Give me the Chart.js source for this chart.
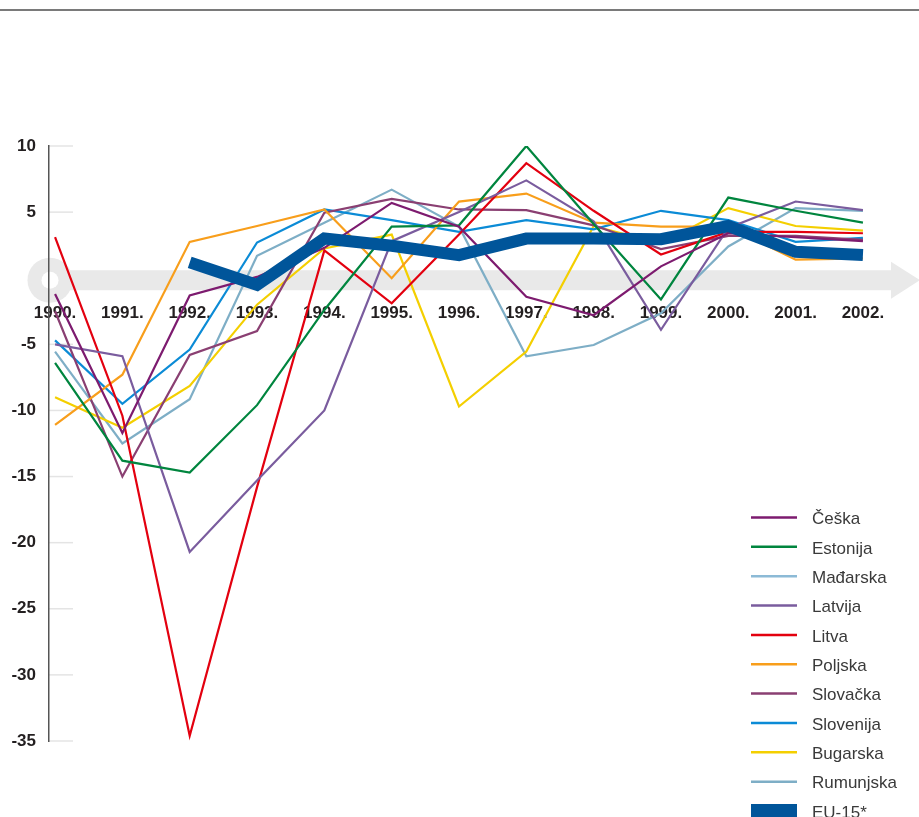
<!DOCTYPE html>
<html>
<head>
<meta charset="utf-8">
<script src="https://cdn.jsdelivr.net/npm/chart.js@4.4.0/dist/chart.umd.min.js"></script>
<style>
  html, body { margin: 0; padding: 0; background: #fff; }
  canvas { display: block; }
</style>
</head>
<body>
<canvas id="grafikon" width="919" height="817"></canvas>
<script>
// godine i oznake osi
const godine = [1990, 1991, 1992, 1993, 1994, 1995, 1996, 1997, 1998, 1999, 2000, 2001, 2002];
const yOznake = [10, 5, -5, -10, -15, -20, -25, -30, -35];

// stope rasta (%), očitano sa slike
const ceska     = [-1.2, -11.7, -1.3, 0.1, 2.3, 5.7, 3.9, -1.4, -2.8, 0.9, 3.4, 3.1, 2.8];
const estonija  = [-6.4, -13.8, -14.7, -9.6, -2.4, 3.9, 4.0, 10.0, 4.1, -1.6, 6.1, 5.1, 4.2];
const madarska  = [null, null, null, null, null, null, null, null, null, null, null, null, null];
const latvija   = [-5.0, -5.9, -20.7, -15.3, -10.0, 2.8, 5.0, 7.4, 4.3, -3.9, 3.8, 5.8, 5.15];
const litva     = [3.1, -10.4, -34.6, -15.8, 2.1, -1.9, 3.3, 8.7, 5.1, 1.8, 3.5, 3.5, 3.4];
const poljska   = [-11.1, -7.3, 2.75, 3.95, 5.2, 0.0, 5.8, 6.4, 4.2, 3.9, 3.9, 1.4, 1.5];
const slovacka  = [-2.5, -15.0, -5.8, -4.0, 4.95, 6.0, 5.2, 5.15, 4.0, 2.2, 3.2, 3.2, 2.9];
const slovenija = [-4.7, -9.5, -5.4, 2.7, 5.2, 4.4, 3.5, 4.4, 3.7, 5.1, 4.4, 2.75, 3.05];
const bugarska  = [-9.0, -11.3, -8.15, -2.0, 2.25, 3.3, -9.7, -5.55, 3.95, 2.6, 5.3, 3.95, 3.6];
const rumunjska = [-5.55, -12.5, -9.15, 1.7, 4.2, 6.7, 3.9, -5.9, -5.05, -2.65, 2.4, 5.3, 5.1];
const eu15      = [null, null, 1.2, -0.5, 3.0, 2.45, 1.75, 3.0, 3.0, 2.95, 3.95, 2.0, 1.75];

const FONT = "'Liberation Sans', Arial, Helvetica, sans-serif";

function serija(label, data, boja, debljina, red) {
  return {
    label: label,
    data: data,
    borderColor: boja,
    backgroundColor: boja,
    borderWidth: debljina,
    pointRadius: 0,
    tension: 0,
    fill: false,
    order: red
  };
}

// siva strelica, gornja crta i kratke crtice uz os
const pozadina = {
  id: 'pozadina',
  beforeDraw(chart) {
    const ctx = chart.ctx;
    const y = chart.scales.y;
    const lijevo = chart.chartArea.left;
    ctx.save();
    ctx.fillStyle = '#fff';
    ctx.fillRect(0, 0, chart.width, chart.height);

    ctx.fillStyle = '#7a7a7a';
    ctx.fillRect(0, 9, chart.width, 2);

    const cy = y.getPixelForValue(0) + 2;
    ctx.fillStyle = '#e9e9e9';
    ctx.fillRect(50, cy - 10, 842, 20);
    ctx.beginPath();
    ctx.arc(50, cy, 22.5, 0, Math.PI * 2);
    ctx.fill();
    ctx.beginPath();
    ctx.moveTo(891, cy - 18.5);
    ctx.lineTo(920, cy);
    ctx.lineTo(891, cy + 18.5);
    ctx.closePath();
    ctx.fill();
    ctx.fillStyle = '#fff';
    ctx.beginPath();
    ctx.arc(50, cy, 8.5, 0, Math.PI * 2);
    ctx.fill();

    ctx.strokeStyle = '#e4e4e4';
    ctx.lineWidth = 1.5;
    y.ticks.forEach(t => {
      const py = y.getPixelForValue(t.value);
      ctx.beginPath();
      ctx.moveTo(lijevo, py);
      ctx.lineTo(lijevo + 24, py);
      ctx.stroke();
    });
    ctx.restore();
  }
};

// legenda desno dolje
const legenda = {
  id: 'legenda',
  afterDraw(chart) {
    const ctx = chart.ctx;
    ctx.save();
    ctx.font = '17px ' + FONT;
    ctx.textBaseline = 'middle';
    chart.data.datasets.forEach((ds, i) => {
      const ly = 517.5 + i * 29.35;
      ctx.strokeStyle = ds.borderColor;
      ctx.lineWidth = ds.borderWidth > 5 ? 14 : 2.5;
      ctx.beginPath();
      ctx.moveTo(751, ly);
      ctx.lineTo(797, ly);
      ctx.stroke();
      ctx.fillStyle = '#3a3a3a';
      ctx.fillText(ds.label, 812, ly + 2);
    });
    ctx.restore();
  }
};

new Chart(document.getElementById('grafikon'), {
  type: 'line',
  data: {
    labels: godine,
    datasets: [
      serija('Češka', ceska, '#7d1b6f', 2.2, 1),
      serija('Estonija', estonija, '#00853e', 2.2, 1),
      serija('Mađarska', madarska, '#8cbad6', 2.2, 1),
      serija('Latvija', latvija, '#7a5c9e', 2.2, 1),
      serija('Litva', litva, '#e3000f', 2.2, 1),
      serija('Poljska', poljska, '#f89e1b', 2.2, 1),
      serija('Slovačka', slovacka, '#8a3f72', 2.2, 1),
      serija('Slovenija', slovenija, '#0b8bd6', 2.2, 1),
      serija('Bugarska', bugarska, '#f4cf00', 2.2, 1),
      serija('Rumunjska', rumunjska, '#7eaec6', 2.2, 1),
      serija('EU-15*', eu15, '#00559a', 12, 0)
    ]
  },
  options: {
    responsive: false,
    animation: false,
    devicePixelRatio: 1,
    layout: { padding: { left: 10, top: 146, right: 50, bottom: 76 } },
    scales: {
      x: {
        type: 'linear',
        min: 1989.91,
        max: 2002.09,
        position: { y: 0 },
        afterBuildTicks: s => { s.ticks = godine.map(g => ({ value: g })); },
        grid: { display: false, drawTicks: false },
        border: { display: false },
        ticks: {
          padding: 25,
          autoSkip: false,
          maxRotation: 0,
          color: '#231f20',
          font: { family: FONT, size: 17, weight: 'bold' },
          callback: v => v + '.'
        }
      },
      y: {
        min: -35,
        max: 10,
        afterBuildTicks: s => { s.ticks = yOznake.map(v => ({ value: v })); },
        afterFit: s => { s.width = 39; },
        grid: { display: false, drawTicks: false },
        border: { display: true, color: '#555', width: 1.5 },
        ticks: {
          padding: 13,
          color: '#231f20',
          font: { family: FONT, size: 17, weight: 'bold' }
        }
      }
    },
    plugins: {
      legend: { display: false },
      tooltip: { enabled: false }
    }
  },
  plugins: [pozadina, legenda]
});
</script>
</body>
</html>
